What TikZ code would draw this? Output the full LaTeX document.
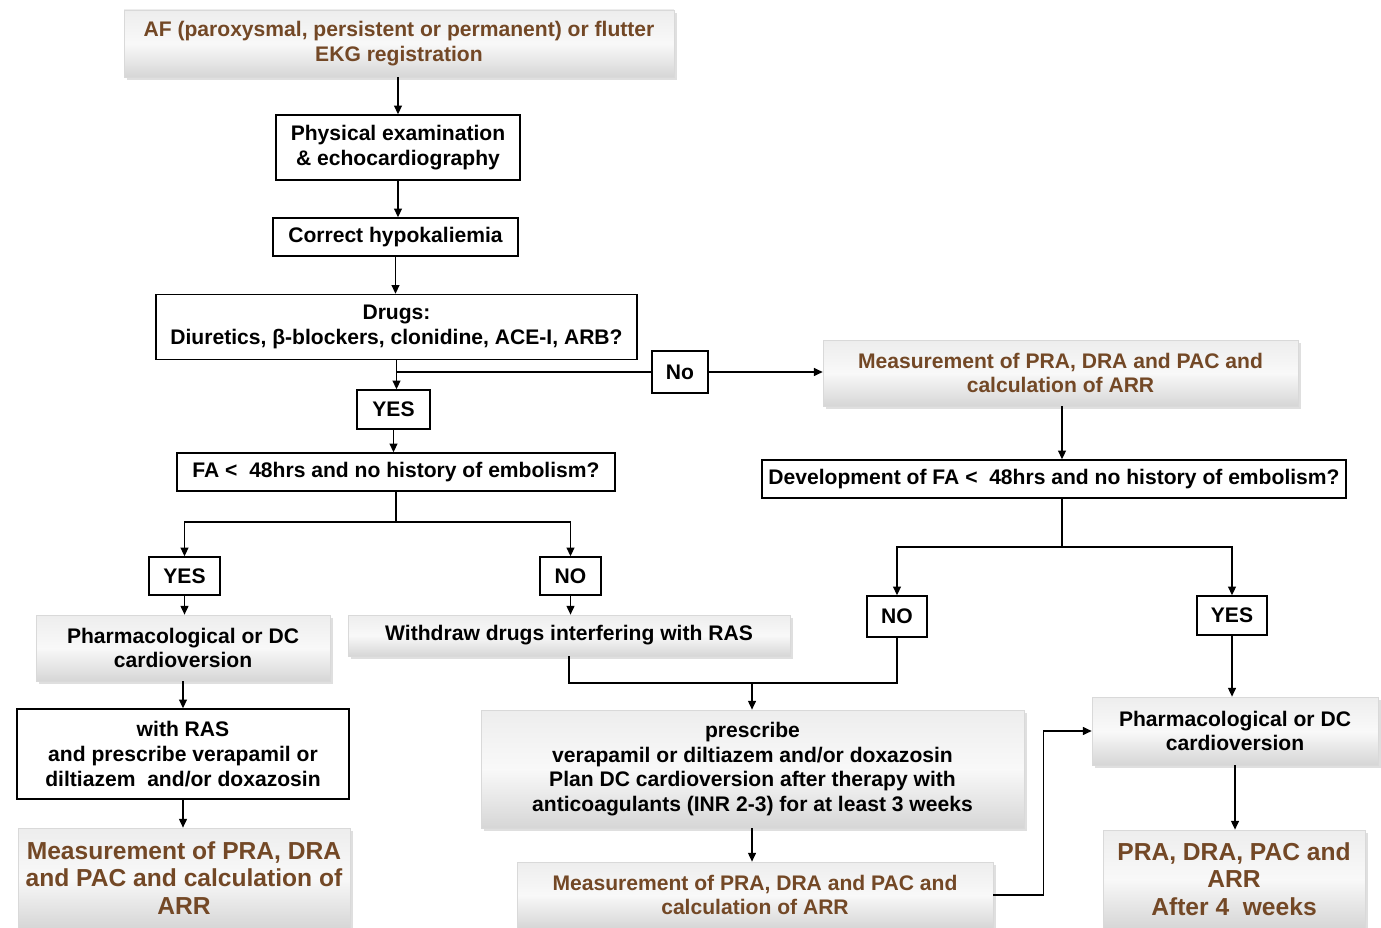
\documentclass[tikz,border=0pt]{standalone}
\usepackage{fontspec}
\setmainfont{Liberation Sans}
\definecolor{notebrown}{RGB}{115, 72, 38}
\usetikzlibrary{arrows.meta, shadows, calc}

\begin{document}
\begin{tikzpicture}[x=0.02cm, y=-0.02cm,
  wbox/.style={draw, line width=0.8pt, fill=white, align=center, inner sep=2pt, font=\bfseries\fontsize{12}{14}\selectfont},
  gbox/.style={draw=gray!30, top color=gray!14, bottom color=gray!32, middle color=gray!5, drop shadow={shadow xshift=1.5pt, shadow yshift=-1.5pt, opacity=0.25}, align=center, inner sep=2pt, font=\bfseries\fontsize{12}{14}\selectfont},
  brtext/.style={text=notebrown},
  bigtext/.style={font=\bfseries\fontsize{14}{15.5}\selectfont},
  link/.style={line width=0.8pt, -{Triangle[length=5pt, width=4.5pt]}},
  plain/.style={line width=0.8pt}
]
  \useasboundingbox (0,0) rectangle (1381,928);

  % left column
  \node[gbox, brtext, minimum width=11cm, minimum height=1.34cm] (af) at (399, 43.5) {
    AF (paroxysmal, persistent or permanent) or flutter\\
    EKG registration
  };
  \node[wbox, minimum width=4.88cm, minimum height=1.3cm] (phys) at (398, 147.5) {
    Physical examination\\
    \& echocardiography
  };
  \node[wbox, minimum width=4.9cm, minimum height=0.76cm] (hypo) at (395.5, 237) {Correct hypokaliemia};
  \node[wbox, minimum width=9.62cm, minimum height=1.3cm] (drugs) at (396.5, 327) {
    Drugs:\\
    Diuretics, β-blockers, clonidine, ACE-I, ARB?
  };
  \node[wbox, minimum width=1.12cm, minimum height=0.84cm] (no1) at (680, 372) {No};
  \node[wbox, minimum width=1.46cm, minimum height=0.78cm] (yes1) at (393.5, 409.5) {YES};
  \node[wbox, minimum width=8.76cm, minimum height=0.76cm] (fa) at (396, 472) {FA <\ \ 48hrs and no history of embolism?};
  \node[wbox, minimum width=1.42cm, minimum height=0.76cm] (yes2) at (184.5, 576) {YES};
  \node[wbox, minimum width=1.22cm, minimum height=0.76cm] (no2) at (570.5, 576) {NO};
  \node[gbox, minimum width=5.88cm, minimum height=1.32cm] (pharmL) at (183, 648) {
    Pharmacological or DC\\
    cardioversion
  };
  \node[gbox, minimum width=8.84cm, minimum height=0.82cm] (withdraw) at (569, 635.5) {Withdraw drugs interfering with RAS};
  \node[wbox, minimum width=6.64cm, minimum height=1.8cm] (withras) at (183, 754) {
    with RAS\\
    and prescribe verapamil or\\
    diltiazem\ \ and/or doxazosin
  };
  \node[gbox, brtext, bigtext, minimum width=6.64cm, minimum height=2cm] (measL) at (184, 878) {
    Measurement of PRA, DRA\\
    and PAC and calculation of\\
    ARR
  };
  \node[gbox, minimum width=10.86cm, minimum height=2.36cm] (prescribe) at (752.5, 769) {
    prescribe\\
    verapamil or diltiazem and/or doxazosin\\
    Plan DC cardioversion after therapy with\\
    anticoagulants (INR 2-3) for at least 3 weeks
  };
  \node[gbox, brtext, minimum width=9.52cm, minimum height=1.32cm] (measM) at (755, 895) {
    Measurement of PRA, DRA and PAC and\\
    calculation of ARR
  };

  % right column
  \node[gbox, brtext, minimum width=9.5cm, minimum height=1.32cm] (measR) at (1060.5, 373) {
    Measurement of PRA, DRA and PAC and\\
    calculation of ARR
  };
  \node[wbox, minimum width=11.68cm, minimum height=0.76cm] (dev) at (1054, 479) {Development of FA <\ \ 48hrs and no history of embolism?};
  \node[wbox, minimum width=1.2cm, minimum height=0.82cm] (no3) at (897, 616.5) {NO};
  \node[wbox, minimum width=1.4cm, minimum height=0.78cm] (yes3) at (1232, 615.5) {YES};
  \node[gbox, minimum width=5.72cm, minimum height=1.36cm] (pharmR) at (1235, 731) {
    Pharmacological or DC\\
    cardioversion
  };
  \node[gbox, brtext, bigtext, minimum width=5.24cm, minimum height=1.96cm] (after) at (1234, 879) {
    PRA, DRA, PAC and\\
    ARR\\
    After 4\ \ weeks
  };

  \coordinate (fasplit) at (396, 522);
  \coordinate (devsplit) at (1062, 547);
  \coordinate (nojoin) at (752, 683);

  \draw[link] (af.south -| phys.south) -- (phys.north);
  \draw[link] (phys.south) -- (phys.south |- hypo.north);
  \draw[link] (hypo.south) -- (hypo.south |- drugs.north);
  \draw[link] (drugs.south) -- (drugs.south |- yes1.north);
  \draw[plain] (drugs.south |- no1.west) -- (no1.west);
  \draw[link] (no1.east) -- (no1.east -| measR.west);
  \draw[link] (yes1.south) -- (yes1.south |- fa.north);
  \draw[plain] (fa.south) -- (fasplit);
  \draw[link] (fasplit) -| (yes2.north);
  \draw[link] (fasplit) -| (no2.north);
  \draw[link] (yes2.south) -- (yes2.south |- pharmL.north);
  \draw[link] (no2.south) -- (no2.south |- withdraw.north);
  \draw[link] (pharmL.south) -- (pharmL.south |- withras.north);
  \draw[link] (withras.south) -- (withras.south |- measL.north);
  \draw[plain] (withdraw.south) |- (nojoin) -| (no3.south);
  \draw[link] (nojoin) -- (nojoin |- prescribe.north);
  \draw[link] (nojoin |- prescribe.south) -- (nojoin |- measM.north);
  \draw[link] (measM.east) -- ++(50,0) |- (pharmR.west);
  \draw[link] (devsplit |- measR.south) -- (devsplit |- dev.north);
  \draw[plain] (devsplit |- dev.south) -- (devsplit);
  \draw[link] (devsplit) -| (no3.north);
  \draw[link] (devsplit) -| (yes3.north);
  \draw[link] (yes3.south) -- (yes3.south |- pharmR.north);
  \draw[link] (pharmR.south) -- (pharmR.south |- after.north);
\end{tikzpicture}
\end{document}
